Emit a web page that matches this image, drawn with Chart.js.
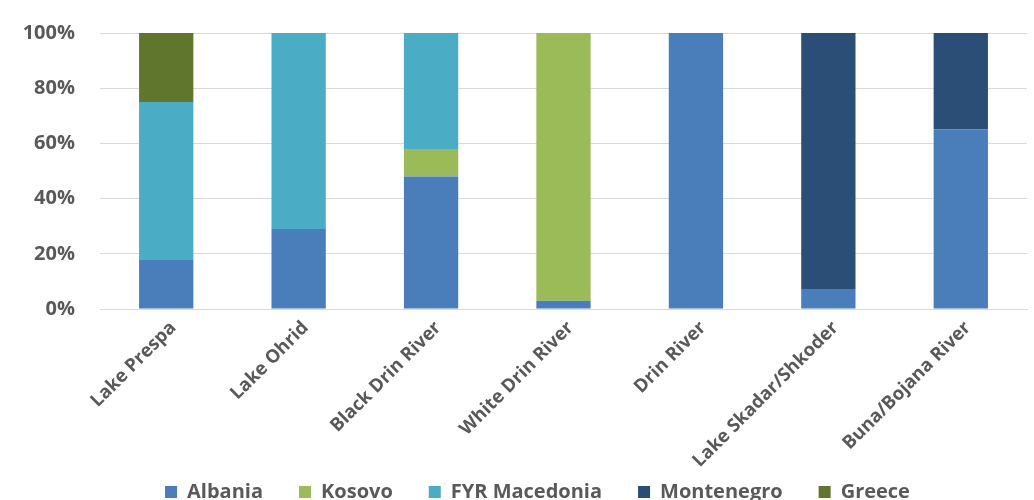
<!DOCTYPE html>
<html>
<head>
<meta charset="utf-8">
<script src="https://cdn.jsdelivr.net/npm/chart.js@4/dist/chart.umd.min.js"></script>
<style>
  html, body { margin: 0; padding: 0; background: #ffffff; }
  #wrap { width: 1034px; height: 500px; position: relative; }
</style>
</head>
<body>
<div id="wrap"><canvas id="chart"></canvas></div>
<script>
// Share of each water body by riparian country (%)
const categories = ["Lake Prespa", "Lake Ohrid", "Black Drin River", "White Drin River", "Drin River", "Lake Skadar/Shkoder", "Buna/Bojana River"];
const albania    = [18, 29, 48, 3, 100, 7, 65];
const kosovo     = [0, 0, 10, 97, 0, 0, 0];
const macedonia  = [57, 71, 42, 0, 0, 0, 0];
const montenegro = [0, 0, 0, 0, 0, 93, 35];
const greece     = [25, 0, 0, 0, 0, 0, 0];
const yTicks     = [0, 20, 40, 60, 80, 100];

const textColor = "#595959";
const gridColor = "#d9d9d9";
const fontFamily = "'Open Sans', 'DejaVu Sans', sans-serif";

const series = [
  { label: "Albania", data: albania, color: "#4a7ebb" },
  { label: "Kosovo", data: kosovo, color: "#9bbb59" },
  { label: "FYR Macedonia", data: macedonia, color: "#4bacc6" },
  { label: "Montenegro", data: montenegro, color: "#2b4e77" },
  { label: "Greece", data: greece, color: "#60762c" }
];

// Let tick labels run past their axis box instead of being clipped to it
const unclipTickLabels = {
  id: "unclipTickLabels",
  beforeDraw(chart) {
    Object.values(chart.scales).forEach(s => { s._computeLabelArea = () => null; });
  }
};

new Chart(document.getElementById("chart"), {
  type: "bar",
  data: {
    labels: categories,
    datasets: series.map(s => ({
      label: s.label,
      data: s.data,
      backgroundColor: s.color,
      borderWidth: 0,
      categoryPercentage: 1,
      barPercentage: 0.41
    }))
  },
  plugins: [unclipTickLabels],
  options: {
    responsive: true,
    maintainAspectRatio: false,
    animation: false,
    layout: { padding: { left: 48, right: 7, top: 33, bottom: 0 } },
    plugins: {
      tooltip: { enabled: false },
      legend: {
        position: "bottom",
        maxHeight: 54,
        labels: {
          color: textColor,
          font: { family: fontFamily, size: 20, weight: "bold" },
          boxWidth: 12,
          boxHeight: 12,
          padding: 36
        }
      }
    },
    scales: {
      x: {
        stacked: true,
        afterFit: axis => { axis.height = 137; },
        grid: { display: false, drawTicks: false },
        border: { display: true, color: gridColor, width: 1 },
        ticks: {
          color: textColor,
          font: { family: fontFamily, size: 18.5, weight: "bold" },
          maxRotation: 45,
          minRotation: 45,
          labelOffset: 7,
          padding: 8
        }
      },
      y: {
        stacked: true,
        min: 0,
        max: 100,
        afterBuildTicks: axis => { axis.ticks = yTicks.map(v => ({ value: v })); },
        afterFit: axis => {
          axis.width = 52;
          axis.paddingTop = 0;
          axis.paddingBottom = 0;
        },
        grid: { color: gridColor, lineWidth: 1, drawTicks: false },
        border: { display: false },
        ticks: {
          color: textColor,
          font: { family: fontFamily, size: 20, weight: "bold" },
          padding: 25,
          callback: v => v + "%"
        }
      }
    }
  }
});
</script>
</body>
</html>
